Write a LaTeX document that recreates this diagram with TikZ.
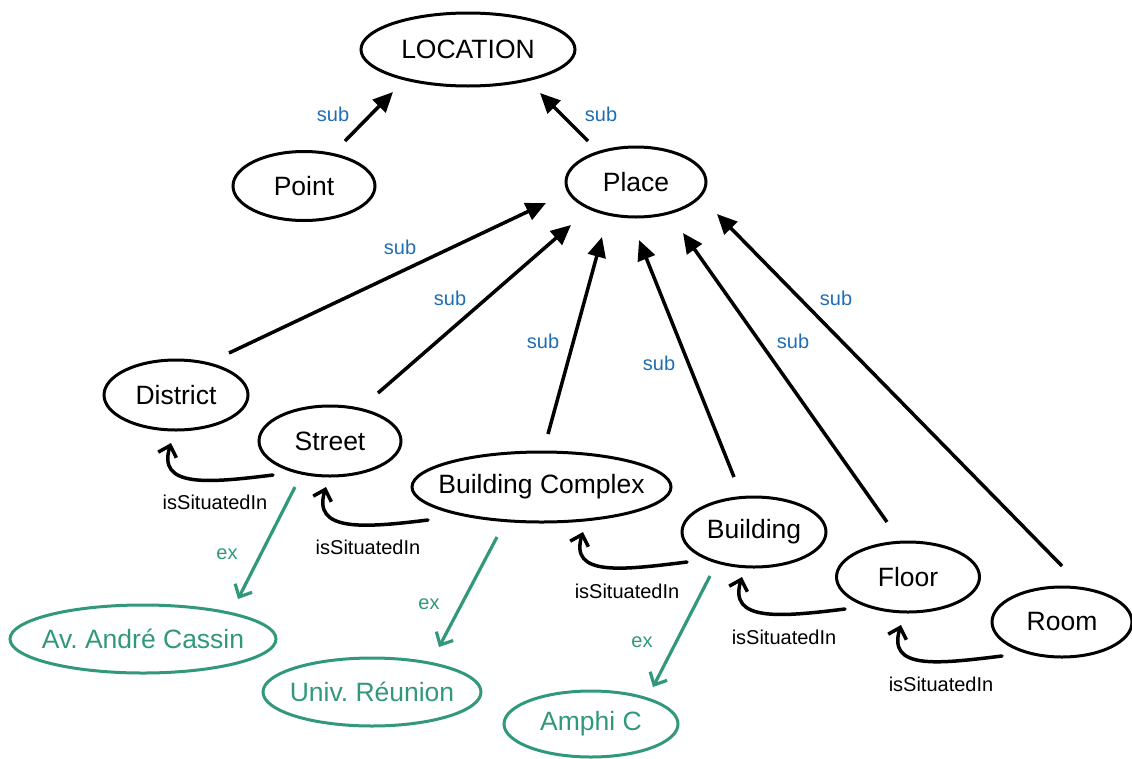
\documentclass[tikz,border=0pt]{standalone}
\usepackage{fontspec}
\setmainfont{Liberation Sans}
\usetikzlibrary{shapes.geometric,arrows.meta}
\definecolor{subblue}{HTML}{1F6DB3}
\definecolor{exgreen}{HTML}{31987C}
\frenchspacing
\newcommand\ctext[1]{\makebox[0pt]{#1}}
\begin{document}
\begin{tikzpicture}[x=1pt,y=-1pt,
  concept/.style={ellipse,draw=black,line width=3pt,inner sep=0pt,font=\fontsize{26.5}{30}\selectfont},
  example/.style={concept,draw=exgreen,text=exgreen},
  subedge/.style={line width=3.5pt,-{Triangle[length=20pt,width=18pt]}},
  sitedge/.style={line width=3.5pt,line cap=round,-{Straight Barb[length=10pt,width=19pt]}},
  exedge/.style={draw=exgreen,line width=3.2pt,-{Straight Barb[length=10pt,width=19pt]}},
  sublabel/.style={text=subblue,font=\fontsize{20}{24}\selectfont,inner sep=0pt},
  sitlabel/.style={font=\fontsize{20}{24}\selectfont,inner sep=0pt},
  exlabel/.style={text=exgreen,font=\fontsize{20}{24}\selectfont,inner sep=0pt}]
\useasboundingbox (0,0) rectangle (1132,758);
% concepts
\node[concept,minimum width=214pt,minimum height=73pt] (loc) at (468,49.5) {\ctext{LOCATION}};
\node[concept,minimum width=142pt,minimum height=69pt] (point) at (304,186) {\ctext{Point}};
\node[concept,minimum width=140pt,minimum height=70pt] (place) at (636,182) {\ctext{Place}};
\node[concept,minimum width=144pt,minimum height=70pt] (district) at (176,395) {\ctext{District}};
\node[concept,minimum width=142pt,minimum height=70pt] (street) at (330,441) {\ctext{Street}};
\node[concept,minimum width=259pt,minimum height=70pt] (bc) at (541.5,487) {\ctext{Building Complex}};
\node[concept,minimum width=144pt,minimum height=70pt] (building) at (754,532) {\ctext{Building}};
\node[concept,minimum width=143pt,minimum height=70pt] (floor) at (908,577) {\ctext{Floor}};
\node[concept,minimum width=140pt,minimum height=70pt] (room) at (1062,622) {\ctext{Room}};
% examples
\node[example,minimum width=266pt,minimum height=68pt] (av) at (143,639) {\ctext{Av. André Cassin}};
\node[example,minimum width=218pt,minimum height=68pt] (univ) at (372,692) {\ctext{Univ. Réunion}};
\node[example,minimum width=174pt,minimum height=66pt] (amphi) at (591,724) {\ctext{Amphi C}};
% sub arrows
\draw[subedge] ([shift={(41,-45)}]point.center) -- ([shift={(-75,42.5)}]loc.center);
\draw[subedge] ([shift={(-48,-41)}]place.center) -- ([shift={(72,43.5)}]loc.center);
\draw[subedge] ([shift={(53,-42)}]district.center) -- ([shift={(-90,21)}]place.center);
\draw[subedge] ([shift={(48,-48)}]street.center) -- ([shift={(-65,43)}]place.center);
\draw[subedge] ([shift={(6.5,-53)}]bc.center) -- ([shift={(-34,55)}]place.center);
\draw[subedge] ([shift={(-20,-55)}]building.center) -- ([shift={(3,58)}]place.center);
\draw[subedge] ([shift={(-21,-55)}]floor.center) -- ([shift={(47,51)}]place.center);
\draw[subedge] ([shift={(0,-56)}]room.center) -- ([shift={(81,32)}]place.center);
% sub labels
\node[sublabel] (s1) at (333,114) {sub};
\node[sublabel] (s2) at (601,114) {sub};
\node[sublabel] (s3) at (400,247) {sub};
\node[sublabel] (s4) at (450,298) {sub};
\node[sublabel] (s5) at (543,341) {sub};
\node[sublabel] (s6) at (659,363) {sub};
\node[sublabel] (s7) at (793,341) {sub};
\node[sublabel] (s8) at (836,298) {sub};
% isSituatedIn arrows
\draw[sitedge] ([shift={(-57,34)}]street.center) .. controls +(-65,8) and +(-14,45) .. ([shift={(-5,48)}]district.center);
\draw[sitedge] ([shift={(-113.5,33)}]bc.center) .. controls +(-65,8) and +(-14,45) .. ([shift={(-4,46)}]street.center);
\draw[sitedge] ([shift={(-67,30)}]building.center) .. controls +(-65,8) and +(-14,45) .. ([shift={(41.5,45)}]bc.center);
\draw[sitedge] ([shift={(-63,32)}]floor.center) .. controls +(-65,8) and +(-14,45) .. ([shift={(-12,45)}]building.center);
\draw[sitedge] ([shift={(-60,34)}]room.center) .. controls +(-65,8) and +(-14,45) .. ([shift={(-7,48)}]floor.center);
% isSituatedIn labels
\node[sitlabel] (i1) at (215,502) {isSituatedIn};
\node[sitlabel] (i2) at (368,547) {isSituatedIn};
\node[sitlabel] (i3) at (627,591) {isSituatedIn};
\node[sitlabel] (i4) at (784,637) {isSituatedIn};
\node[sitlabel] (i5) at (941,684) {isSituatedIn};
% ex arrows
\draw[exedge] ([shift={(-35,46)}]street.center) -- ([shift={(95,-40)}]av.center);
\draw[exedge] ([shift={(-44.5,50)}]bc.center) -- ([shift={(67,-45)}]univ.center);
\draw[exedge] ([shift={(-44,44)}]building.center) -- ([shift={(62,-37)}]amphi.center);
% ex labels
\node[exlabel] (e1) at (227,554) {ex};
\node[exlabel] (e2) at (429,604) {ex};
\node[exlabel] (e3) at (642,642) {ex};
\end{tikzpicture}
\end{document}
